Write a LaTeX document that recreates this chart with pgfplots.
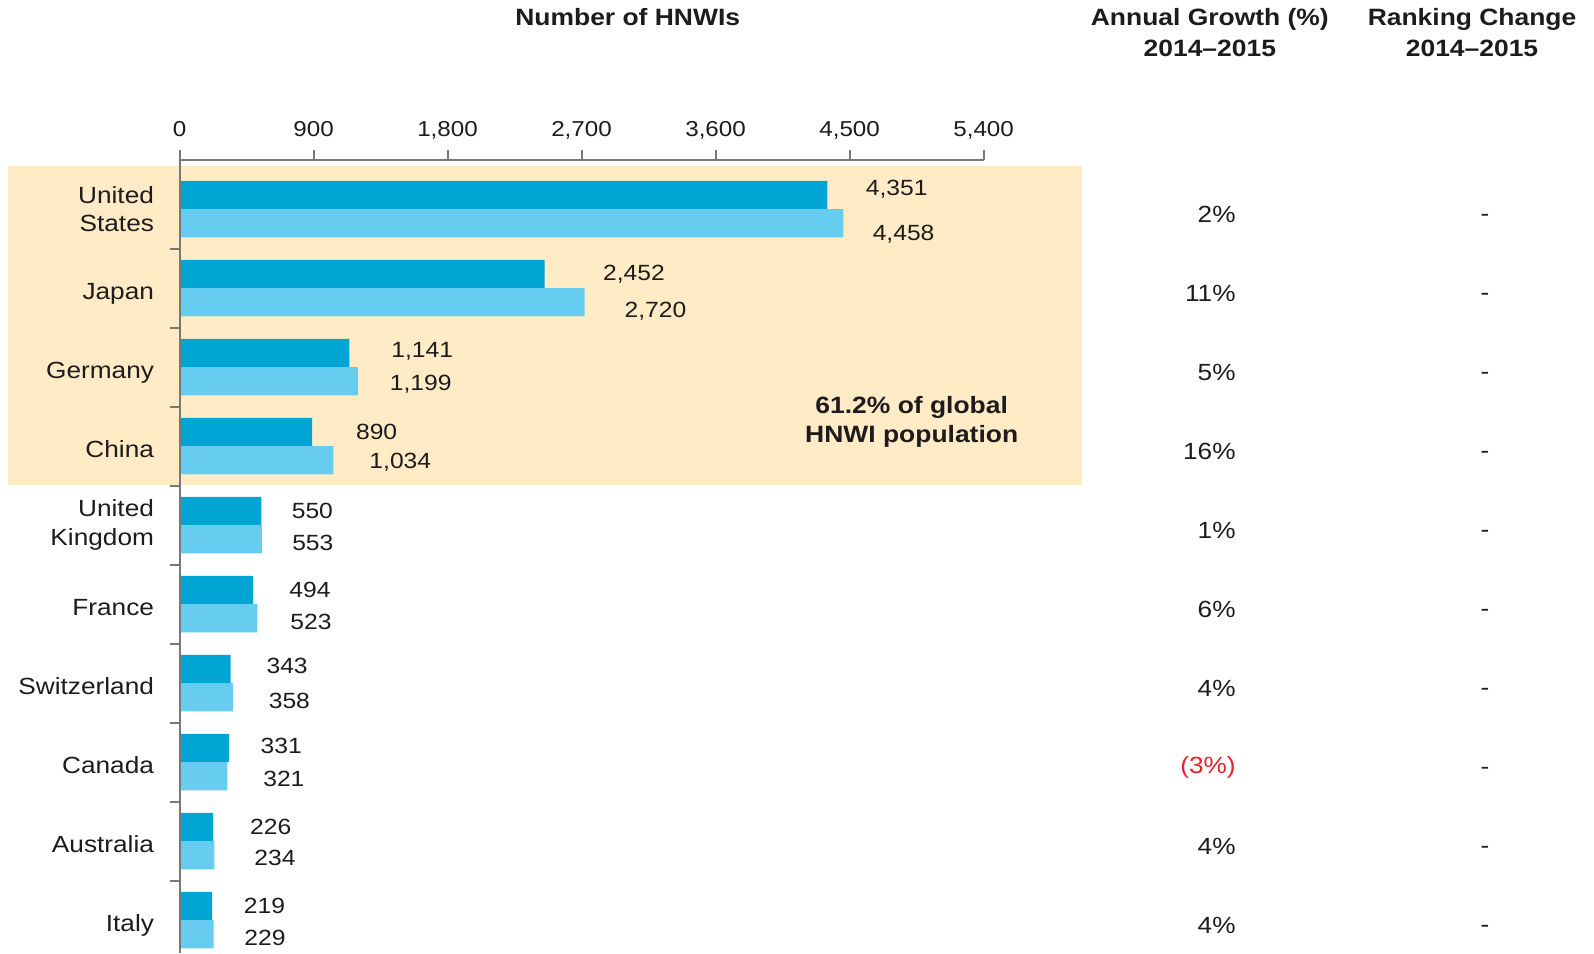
\documentclass[border=0pt]{standalone}
\usepackage{pgfplots}
\pgfplotsset{compat=1.18}
\usepackage{pgfplotstable}
\usepackage{fontspec}
\setmainfont{Liberation Sans}[FakeStretch=1.12]
\definecolor{dark}{RGB}{0,165,212}
\definecolor{light}{RGB}{102,205,241}
\definecolor{band}{RGB}{255,236,198}
\definecolor{txt}{RGB}{30,27,28}
\definecolor{neg}{RGB}{232,32,42}
\definecolor{axisgray}{RGB}{120,120,120}
\newcommand\lab{\fontsize{11.7}{14.2}\selectfont}
\newcommand\val{\fontsize{11}{13}\selectfont}
\newcommand\hdr{\fontsize{11.8}{15.2}\selectfont\bfseries}
\newcommand\callout{\fontsize{11.8}{14.6}\selectfont\bfseries}

\pgfplotstableread{
y v14 v15 l14 l15 dx14 dx15 dy14 dy15
9 4351 4458 4,351 4,458 19.0 14.5 2.9 -5.3
8 2452 2720 2,452 2,720 29.0 19.8 0 -4.5
7 1141 1199 1,141 1,199 20.8 15.7 1 -1.5
6 890 1034 890 1,034 21.8 17.8 0 -1
5 550 553 550 553 15.0 15.0 0 -2
4 494 523 494 523 18.0 16.3 0 -2
3 343 358 343 358 17.8 17.8 1.5 -2
2 331 321 331 321 15.7 17.8 1 -1.5
1 226 234 226 234 18.3 19.8 0 -1.5
0 219 229 219 229 15.7 15.2 0 -2
}\hnwi

\begin{document}
\begin{tikzpicture}
\begin{axis}[
  set layers, axis on top, clip=false,
  scale only axis, width=402pt, height=396.5pt,
  xmin=0, xmax=5400, ymin=-0.418, ymax=9.62,
  axis x line*=top, axis y line*=left,
  axis line style={draw=axisgray, line width=1pt},
  every tick/.style={draw=axisgray, line width=1pt},
  tick align=outside, major tick length=5pt,
  xtick={0,900,1800,2700,3600,4500,5400},
  xticklabels={0,900,{1,800},{2,700},{3,600},{4,500},{5,400}},
  xticklabel style={font=\fontsize{10.8}{13}\selectfont, text=txt, anchor=base, inner sep=0pt},
  xticklabel shift=7pt,
  ytick={0.5,1.5,...,8.5}, yticklabels={},
  xbar, bar width=14.1pt,
]
\begin{pgfonlayer}{axis background}
\fill[band] (axis cs:-1150,5.506) rectangle (axis cs:6063,9.548);
\end{pgfonlayer}

\addplot[fill=dark, draw=none, bar shift=7.05pt,
  visualization depends on={\thisrow{dx14} \as \dx},
  visualization depends on={\thisrow{dy14} \as \dy},
  nodes near coords, point meta=explicit symbolic,
  every node near coord/.append style={font=\val, text=txt, anchor=west, inner sep=0pt, xshift={\dx pt}, yshift={\dy pt}}]
  table[x=v14, y=y, meta=l14] {\hnwi};
\addplot[fill=light, draw=none, bar shift=-7.05pt,
  visualization depends on={\thisrow{dx15} \as \dx},
  visualization depends on={\thisrow{dy15} \as \dy},
  nodes near coords, point meta=explicit symbolic,
  every node near coord/.append style={font=\val, text=txt, anchor=west, inner sep=0pt, xshift={\dx pt}, yshift={\dy pt}}]
  table[x=v15, y=y, meta=l15] {\hnwi};

% country names
\begin{scope}[every node/.style={anchor=east, align=right, font=\lab, text=txt, inner sep=0pt}]
\node at (axis cs:-169,9) {United\\States};
\node at (axis cs:-169,5) {United\\Kingdom};
\end{scope}
\begin{scope}[every node/.style={anchor=base east, font=\lab, text=txt, inner sep=0pt, yshift=-5.7pt}]
\node at (axis cs:-169,8) {Japan};
\node at (axis cs:-169,7) {Germany};
\node at (axis cs:-169,6) {China};
\node at (axis cs:-169,4) {France};
\node at (axis cs:-169,3) {Switzerland};
\node at (axis cs:-169,2) {Canada};
\node at (axis cs:-169,1) {Australia};
\node at (axis cs:-169,0) {Italy};
\end{scope}

% annual growth
\begin{scope}[every node/.style={anchor=east, font=\lab, text=txt, inner sep=0pt, yshift=-2.5pt}]
\node at (axis cs:7095,9) {2\%};
\node at (axis cs:7095,8) {11\%};
\node at (axis cs:7095,7) {5\%};
\node at (axis cs:7095,6) {16\%};
\node at (axis cs:7095,5) {1\%};
\node at (axis cs:7095,4) {6\%};
\node at (axis cs:7095,3) {4\%};
\node[text=neg] at (axis cs:7095,2) {(3\%)};
\node at (axis cs:7095,1) {4\%};
\node at (axis cs:7095,0) {4\%};
\end{scope}

% ranking change
\begin{scope}[every node/.style={font=\lab, text=txt, inner sep=0pt, yshift=-4.5pt}]
\node at (axis cs:8767,9) {-};
\node at (axis cs:8767,8) {-};
\node at (axis cs:8767,7) {-};
\node at (axis cs:8767,6) {-};
\node at (axis cs:8767,5) {-};
\node at (axis cs:8767,4) {-};
\node at (axis cs:8767,3) {-};
\node at (axis cs:8767,2) {-};
\node at (axis cs:8767,1) {-};
\node at (axis cs:8767,0) {-};
\end{scope}

% headers
\node[font=\hdr, text=txt, inner sep=0pt] at (axis cs:3010,11.427) {Number of HNWIs};
\node[font=\hdr, text=txt, inner sep=0pt, align=center] at (axis cs:6919,11.233) {Annual Growth (\%)\\2014–2015};
\node[font=\hdr, text=txt, inner sep=0pt, align=center] at (axis cs:8680,11.233) {Ranking Change\\2014–2015};

% callout
\node[font=\callout, text=txt, inner sep=0pt, align=center, yshift=-2pt] at (axis cs:4917,6.354) {61.2\% of global\\HNWI population};

\coordinate (bbSW) at (axis cs:-1205.5,-0.418);
\coordinate (bbNE) at (axis cs:9499,11.646);
\end{axis}
\pgfresetboundingbox
\path[use as bounding box] (bbSW) rectangle (bbNE);
\end{tikzpicture}
\end{document}
